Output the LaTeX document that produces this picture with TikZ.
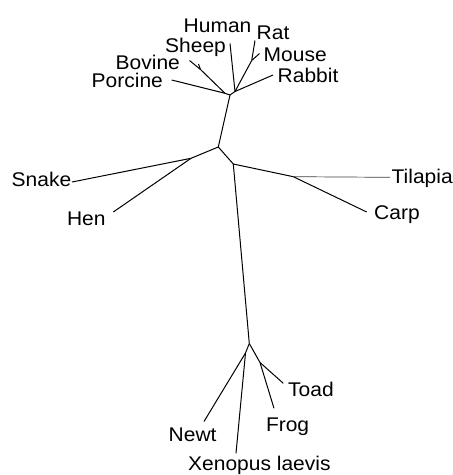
\documentclass[tikz,border=0pt]{standalone}
\usepackage{fontspec}
\setmainfont{Liberation Sans}[FakeStretch=1.06]
\begin{document}
\begin{tikzpicture}[x=1pt,y=-1pt,
  br/.style={line width=1pt,black},
  lab/.style={anchor=base west,inner sep=0pt,font=\fontsize{19.8}{23}\selectfont}]
\useasboundingbox (0,0) rectangle (453,475);
% internal junctions
\coordinate (H1) at (230,95);
\coordinate (L1) at (225,93.3);
\coordinate (BS) at (200.5,69.5);
\coordinate (R1) at (235,91.5);
\coordinate (RM) at (251.7,60.5);
\coordinate (C) at (218.3,147);
\coordinate (SH) at (191,158.3);
\coordinate (A) at (233.3,164);
\coordinate (F) at (293.3,176.7);
\coordinate (AM) at (249.3,343.5);
\coordinate (NX) at (245.5,353);
\coordinate (TF) at (260,362.5);
% leaf ends
\coordinate (ePorcine) at (171.7,80);
\coordinate (eBovine) at (189.5,60.5);
\coordinate (eSheep) at (198.5,64);
\coordinate (eHuman) at (230,43.5);
\coordinate (eRat) at (255,40.5);
\coordinate (eMouse) at (259.5,53.5);
\coordinate (eRabbit) at (273,75);
\coordinate (eSnake) at (72,182);
\coordinate (eHen) at (113.3,212);
\coordinate (eTilapia) at (390,177.3);
\coordinate (eCarp) at (366.7,212);
\coordinate (eNewt) at (204,421.5);
\coordinate (eXen) at (236,453.3);
\coordinate (eFrog) at (274,408.3);
\coordinate (eToad) at (283.3,383.3);
% labels
\node[lab] (Human) at (183.5,32.5) {Human};
\node[lab] (Rat) at (256.5,39.3) {Rat};
\node[lab] (Sheep) at (165,52.5) {Sheep};
\node[lab] (Mouse) at (263.5,61) {Mouse};
\node[lab] (Bovine) at (115.5,69) {Bovine};
\node[lab] (Porcine) at (91.5,87.3) {Porcine};
\node[lab] (Rabbit) at (277.5,82.7) {Rabbit};
\node[lab] (Snake) at (11.5,186) {Snake};
\node[lab] (Hen) at (66.8,225) {Hen};
\node[lab] (Tilapia) at (391.5,183) {Tilapia};
\node[lab] (Carp) at (374,219.5) {Carp};
\node[lab] (Toad) at (288,396) {Toad};
\node[lab] (Frog) at (265.8,431.5) {Frog};
\node[lab] (Newt) at (168.5,441.7) {Newt};
\node[lab] (Xenopus) at (188,470) {Xenopus laevis};
% branches
\draw[br] (H1) -- (L1);
\draw[br] (L1) -- (ePorcine);
\draw[br] (L1) -- (BS);
\draw[br] (BS) -- (eBovine);
\draw[br] (BS) -- (eSheep);
\draw[br] (H1) -- (R1);
\draw[br] (R1) -- (eHuman);
\draw[br] (R1) -- (RM);
\draw[br] (RM) -- (eRat);
\draw[br] (RM) -- (eMouse);
\draw[br] (R1) -- (eRabbit);
\draw[br] (H1) -- (C);
\draw[br] (C) -- (SH);
\draw[br] (SH) -- (eSnake);
\draw[br] (SH) -- (eHen);
\draw[br] (C) -- (A);
\draw[br] (A) -- (F);
\draw[br,line width=0.7pt,black!75] (F) -- (eTilapia);
\draw[br] (F) -- (eCarp);
\draw[br] (A) -- (AM);
\draw[br] (AM) -- (NX);
\draw[br] (NX) -- (eNewt);
\draw[br] (NX) -- (eXen);
\draw[br] (AM) -- (TF);
\draw[br] (TF) -- (eFrog);
\draw[br] (TF) -- (eToad);
\end{tikzpicture}
\end{document}
